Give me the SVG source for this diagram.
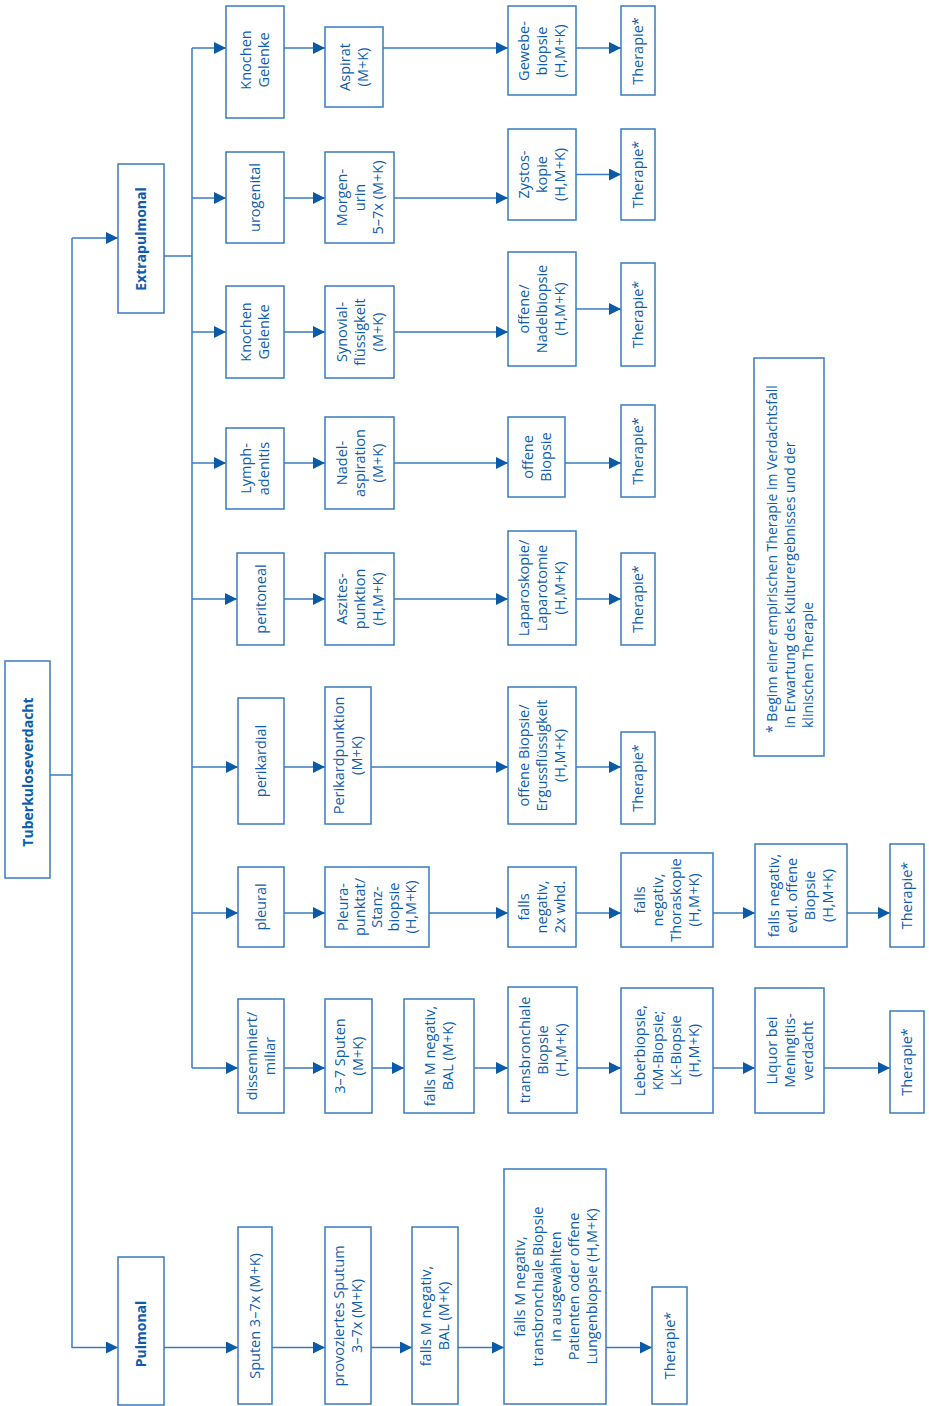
<svg xmlns="http://www.w3.org/2000/svg" width="929" height="1406" viewBox="0 0 929 1406">
<defs>
<marker id="ah" viewBox="0 0 12 12" markerUnits="userSpaceOnUse" markerWidth="12" markerHeight="12" refX="12" refY="6" orient="auto">
<path d="M0,0 L12,6 L0,12 z" fill="#0b5aa8"/>
</marker>
<style>
.b{fill:#fff;stroke:#3a7bbf;stroke-width:1.5}
.t{font-family:"Open Sans","Noto Sans",sans-serif;font-size:14.5px;fill:#0e5dad;text-anchor:middle}
.bd{font-weight:bold;font-size:14px}
.f{font-family:"Open Sans","Noto Sans",sans-serif;font-size:14px;fill:#0e5dad;text-anchor:start}
.c line{stroke:#3a7bbf;stroke-width:1.5;fill:none}
.c .a{marker-end:url(#ah)}
</style>
</defs>
<rect width="929" height="1406" fill="#fff"/>
<g class="c" id="connectors">
<line x1="50" y1="775" x2="72" y2="775"/>
<line x1="72" y1="238" x2="72" y2="1348"/>
<line class="a" x1="72" y1="238" x2="118" y2="238"/>
<line class="a" x1="72" y1="1347.5" x2="118" y2="1347.5"/>
<line x1="164" y1="256" x2="192" y2="256"/>
<line x1="192" y1="48" x2="192" y2="1068"/>
<line class="a" x1="192" y1="48" x2="226" y2="48"/>
<line class="a" x1="284" y1="48" x2="325" y2="48"/>
<line class="a" x1="383" y1="48" x2="508" y2="48"/>
<line class="a" x1="576" y1="48" x2="621" y2="48"/>
<line class="a" x1="192" y1="198" x2="226" y2="198"/>
<line class="a" x1="284" y1="198" x2="325" y2="198"/>
<line class="a" x1="394" y1="198" x2="508" y2="198"/>
<line class="a" x1="576" y1="174.5" x2="621" y2="174.5"/>
<line class="a" x1="192" y1="332" x2="226" y2="332"/>
<line class="a" x1="284" y1="332" x2="325" y2="332"/>
<line class="a" x1="394" y1="332" x2="508" y2="332"/>
<line class="a" x1="576" y1="309" x2="621" y2="309"/>
<line class="a" x1="192" y1="463" x2="226" y2="463"/>
<line class="a" x1="284" y1="463" x2="325" y2="463"/>
<line class="a" x1="394" y1="463" x2="508" y2="463"/>
<line class="a" x1="565" y1="463" x2="621" y2="463"/>
<line class="a" x1="192" y1="599" x2="237" y2="599"/>
<line class="a" x1="284" y1="599" x2="325" y2="599"/>
<line class="a" x1="394" y1="599" x2="508" y2="599"/>
<line class="a" x1="576" y1="599" x2="621" y2="599"/>
<line class="a" x1="192" y1="767" x2="238" y2="767"/>
<line class="a" x1="284" y1="767" x2="325" y2="767"/>
<line class="a" x1="371" y1="767" x2="508" y2="767"/>
<line class="a" x1="576" y1="767" x2="621" y2="767"/>
<line class="a" x1="192" y1="913" x2="238" y2="913"/>
<line class="a" x1="284" y1="913" x2="325" y2="913"/>
<line class="a" x1="429" y1="913" x2="508" y2="913"/>
<line class="a" x1="576" y1="913" x2="621" y2="913"/>
<line class="a" x1="713" y1="913" x2="755" y2="913"/>
<line class="a" x1="847" y1="913" x2="890" y2="913"/>
<line class="a" x1="192" y1="1068" x2="238" y2="1068"/>
<line class="a" x1="284" y1="1068" x2="325" y2="1068"/>
<line class="a" x1="372" y1="1068" x2="404" y2="1068"/>
<line class="a" x1="474" y1="1068" x2="508" y2="1068"/>
<line class="a" x1="577" y1="1068" x2="621" y2="1068"/>
<line class="a" x1="713" y1="1068" x2="755" y2="1068"/>
<line class="a" x1="824" y1="1068" x2="890" y2="1068"/>
<line class="a" x1="164" y1="1347.5" x2="238" y2="1347.5"/>
<line class="a" x1="272" y1="1347.5" x2="325" y2="1347.5"/>
<line class="a" x1="371" y1="1347.5" x2="412" y2="1347.5"/>
<line class="a" x1="458" y1="1347.5" x2="504" y2="1347.5"/>
<line class="a" x1="606" y1="1347.5" x2="652" y2="1347.5"/>
</g>

<g id="n_tb"><rect class="b" x="5" y="661" width="45" height="217"/><text class="t bd" transform="translate(27.5,772) rotate(-90)"><tspan x="0" y="5">Tuberkuloseverdacht</tspan></text></g>
<g id="n_extra"><rect class="b" x="118" y="164" width="46" height="149"/><text class="t bd" transform="translate(141,239) rotate(-90)"><tspan x="0" y="5">Extrapulmonal</tspan></text></g>
<g id="n_pulm"><rect class="b" x="118" y="1257" width="46" height="148"/><text class="t bd" transform="translate(141,1334) rotate(-90)"><tspan x="0" y="5">Pulmonal</tspan></text></g>

<g id="a1"><rect class="b" x="226" y="6" width="58" height="112"/><text class="t" transform="translate(255,60) rotate(-90)"><tspan x="0" y="-4">Knochen</tspan><tspan x="0" y="14">Gelenke</tspan></text></g>
<g id="b1"><rect class="b" x="325" y="27" width="58" height="80"/><text class="t" transform="translate(354,67) rotate(-90)"><tspan x="0" y="-4">Aspirat</tspan><tspan x="0" y="14">(M+K)</tspan></text></g>
<g id="c1"><rect class="b" x="508" y="6" width="68" height="89"/><text class="t" transform="translate(542,51) rotate(-90)"><tspan x="0" y="-13">Gewebe-</tspan><tspan x="0" y="5">biopsie</tspan><tspan x="0" y="23">(H,M+K)</tspan></text></g>
<g id="d1"><rect class="b" x="621" y="6" width="34" height="89"/><text class="t" transform="translate(638,51) rotate(-90)"><tspan x="0" y="5">Therapie*</tspan></text></g>

<g id="a2"><rect class="b" x="226" y="152" width="58" height="91"/><text class="t" transform="translate(255,197.5) rotate(-90)"><tspan x="0" y="5">urogenital</tspan></text></g>
<g id="b2"><rect class="b" x="325" y="152" width="69" height="91"/><text class="t" transform="translate(359.5,197.5) rotate(-90)"><tspan x="0" y="-13">Morgen-</tspan><tspan x="0" y="5">urin</tspan><tspan x="0" y="23">5–7x (M+K)</tspan></text></g>
<g id="c2"><rect class="b" x="508" y="129" width="68" height="91"/><text class="t" transform="translate(542,174.5) rotate(-90)"><tspan x="0" y="-13">Zystos-</tspan><tspan x="0" y="5">kopie</tspan><tspan x="0" y="23">(H,M+K)</tspan></text></g>
<g id="d2"><rect class="b" x="621" y="129" width="34" height="91"/><text class="t" transform="translate(638,174.5) rotate(-90)"><tspan x="0" y="5">Therapie*</tspan></text></g>

<g id="a3"><rect class="b" x="226" y="286" width="58" height="92"/><text class="t" transform="translate(255,332) rotate(-90)"><tspan x="0" y="-4">Knochen</tspan><tspan x="0" y="14">Gelenke</tspan></text></g>
<g id="b3"><rect class="b" x="325" y="286" width="69" height="92"/><text class="t" transform="translate(359.5,332) rotate(-90)"><tspan x="0" y="-13">Synovial-</tspan><tspan x="0" y="5">flüssigkeit</tspan><tspan x="0" y="23">(M+K)</tspan></text></g>
<g id="c3"><rect class="b" x="508" y="252" width="68" height="114"/><text class="t" transform="translate(542,309) rotate(-90)"><tspan x="0" y="-13">offene/</tspan><tspan x="0" y="5">Nadelbiopsie</tspan><tspan x="0" y="23">(H,M+K)</tspan></text></g>
<g id="d3"><rect class="b" x="621" y="263" width="34" height="103"/><text class="t" transform="translate(638,314.5) rotate(-90)"><tspan x="0" y="5">Therapie*</tspan></text></g>

<g id="a4"><rect class="b" x="226" y="428" width="58" height="81"/><text class="t" transform="translate(255,468.5) rotate(-90)"><tspan x="0" y="-4">Lymph-</tspan><tspan x="0" y="14">adenitis</tspan></text></g>
<g id="b4"><rect class="b" x="325" y="417" width="69" height="92"/><text class="t" transform="translate(359.5,463) rotate(-90)"><tspan x="0" y="-13">Nadel-</tspan><tspan x="0" y="5">aspiration</tspan><tspan x="0" y="23">(M+K)</tspan></text></g>
<g id="c4"><rect class="b" x="508" y="417" width="57" height="80"/><text class="t" transform="translate(536.5,457) rotate(-90)"><tspan x="0" y="-4">offene</tspan><tspan x="0" y="14">Biopsie</tspan></text></g>
<g id="d4"><rect class="b" x="621" y="405" width="34" height="92"/><text class="t" transform="translate(638,451) rotate(-90)"><tspan x="0" y="5">Therapie*</tspan></text></g>

<g id="a5"><rect class="b" x="237" y="553" width="47" height="92"/><text class="t" transform="translate(260.5,599) rotate(-90)"><tspan x="0" y="5">peritoneal</tspan></text></g>
<g id="b5"><rect class="b" x="325" y="553" width="69" height="92"/><text class="t" transform="translate(359.5,599) rotate(-90)"><tspan x="0" y="-13">Aszites-</tspan><tspan x="0" y="5">punktion</tspan><tspan x="0" y="23">(H,M+K)</tspan></text></g>
<g id="c5"><rect class="b" x="508" y="531" width="68" height="114"/><text class="t" transform="translate(542,588) rotate(-90)"><tspan x="0" y="-13">Laparoskopie/</tspan><tspan x="0" y="5">Laparotomie</tspan><tspan x="0" y="23">(H,M+K)</tspan></text></g>
<g id="d5"><rect class="b" x="621" y="553" width="34" height="92"/><text class="t" transform="translate(638,599) rotate(-90)"><tspan x="0" y="5">Therapie*</tspan></text></g>

<g id="a6"><rect class="b" x="238" y="698" width="46" height="126"/><text class="t" transform="translate(261,761) rotate(-90)"><tspan x="0" y="5">perikardial</tspan></text></g>
<g id="b6"><rect class="b" x="325" y="687" width="46" height="137"/><text class="t" transform="translate(348,755.5) rotate(-90)"><tspan x="0" y="-4">Perikardpunktion</tspan><tspan x="0" y="14">(M+K)</tspan></text></g>
<g id="c6"><rect class="b" x="508" y="687" width="68" height="137"/><text class="t" transform="translate(542,755.5) rotate(-90)"><tspan x="0" y="-13">offene Biopsie/</tspan><tspan x="0" y="5">Ergussflüssigkeit</tspan><tspan x="0" y="23">(H,M+K)</tspan></text></g>
<g id="d6"><rect class="b" x="621" y="732" width="34" height="92"/><text class="t" transform="translate(638,778) rotate(-90)"><tspan x="0" y="5">Therapie*</tspan></text></g>

<g id="a7"><rect class="b" x="238" y="867" width="46" height="80"/><text class="t" transform="translate(261,907) rotate(-90)"><tspan x="0" y="5">pleural</tspan></text></g>
<g id="b7"><rect class="b" x="325" y="867" width="104" height="80"/><text class="t" transform="translate(377,907) rotate(-90)"><tspan x="0" y="-29">Pleura-</tspan><tspan x="0" y="-12">punktat/</tspan><tspan x="0" y="5">Stanz-</tspan><tspan x="0" y="22">biopsie</tspan><tspan x="0" y="39">(H,M+K)</tspan></text></g>
<g id="c7"><rect class="b" x="508" y="867" width="68" height="80"/><text class="t" transform="translate(542,907) rotate(-90)"><tspan x="0" y="-13">falls</tspan><tspan x="0" y="5">negativ,</tspan><tspan x="0" y="23">2x whd.</tspan></text></g>
<g id="d7"><rect class="b" x="621" y="853" width="92" height="94"/><text class="t" transform="translate(667,900) rotate(-90)"><tspan x="0" y="-22">falls</tspan><tspan x="0" y="-4">negativ,</tspan><tspan x="0" y="14">Thoraskopie</tspan><tspan x="0" y="32">(H,M+K)</tspan></text></g>
<g id="e7"><rect class="b" x="755" y="844" width="92" height="103"/><text class="t" transform="translate(801,895.5) rotate(-90)"><tspan x="0" y="-22">falls negativ,</tspan><tspan x="0" y="-4">evtl. offene</tspan><tspan x="0" y="14">Biopsie</tspan><tspan x="0" y="32">(H,M+K)</tspan></text></g>
<g id="f7"><rect class="b" x="890" y="844" width="34" height="103"/><text class="t" transform="translate(907,895.5) rotate(-90)"><tspan x="0" y="5">Therapie*</tspan></text></g>

<g id="a8"><rect class="b" x="238" y="999" width="46" height="114"/><text class="t" transform="translate(261,1056) rotate(-90)"><tspan x="0" y="-4">disseminiert/</tspan><tspan x="0" y="14">miliar</tspan></text></g>
<g id="b8"><rect class="b" x="325" y="999" width="47" height="114"/><text class="t" transform="translate(348.5,1056) rotate(-90)"><tspan x="0" y="-4">3–7 Sputen</tspan><tspan x="0" y="14">(M+K)</tspan></text></g>
<g id="c8"><rect class="b" x="404" y="999" width="70" height="114"/><text class="t" transform="translate(439,1056) rotate(-90)"><tspan x="0" y="-4">falls M negativ,</tspan><tspan x="0" y="14">BAL (M+K)</tspan></text></g>
<g id="d8"><rect class="b" x="508" y="987" width="69" height="126"/><text class="t" transform="translate(542.5,1050) rotate(-90)"><tspan x="0" y="-13">transbronchiale</tspan><tspan x="0" y="5">Biopsie</tspan><tspan x="0" y="23">(H,M+K)</tspan></text></g>
<g id="e8"><rect class="b" x="621" y="988" width="92" height="125"/><text class="t" transform="translate(667,1050.5) rotate(-90)"><tspan x="0" y="-22">Leberbiopsie,</tspan><tspan x="0" y="-4">KM-Biopsie;</tspan><tspan x="0" y="14">LK-Biopsie</tspan><tspan x="0" y="32">(H,M+K)</tspan></text></g>
<g id="f8"><rect class="b" x="755" y="988" width="69" height="125"/><text class="t" transform="translate(789.5,1050.5) rotate(-90)"><tspan x="0" y="-13">Liquor bei</tspan><tspan x="0" y="5">Meningitis-</tspan><tspan x="0" y="23">verdacht</tspan></text></g>
<g id="g8"><rect class="b" x="890" y="1011" width="34" height="102"/><text class="t" transform="translate(907,1062) rotate(-90)"><tspan x="0" y="5">Therapie*</tspan></text></g>

<g id="p1"><rect class="b" x="238" y="1227" width="34" height="177"/><text class="t" transform="translate(255,1316) rotate(-90)"><tspan x="0" y="5">Sputen 3–7x (M+K)</tspan></text></g>
<g id="p2"><rect class="b" x="325" y="1227" width="46" height="177"/><text class="t" transform="translate(348,1316) rotate(-90)"><tspan x="0" y="-4">provoziertes Sputum</tspan><tspan x="0" y="14">3–7x (M+K)</tspan></text></g>
<g id="p3"><rect class="b" x="412" y="1227" width="46" height="177"/><text class="t" transform="translate(435,1316) rotate(-90)"><tspan x="0" y="-4">falls M negativ,</tspan><tspan x="0" y="14">BAL (M+K)</tspan></text></g>
<g id="p4"><rect class="b" x="504" y="1169" width="102" height="235"/><text class="t" transform="translate(555.5,1286.5) rotate(-90)"><tspan x="0" y="-31">falls M negativ,</tspan><tspan x="0" y="-13">transbronchiale Biopsie</tspan><tspan x="0" y="5">in ausgewählten</tspan><tspan x="0" y="23">Patienten oder offene</tspan><tspan x="0" y="41">Lungenbiopsie (H,M+K)</tspan></text></g>
<g id="p5"><rect class="b" x="652" y="1287" width="35" height="117"/><text class="t" transform="translate(669.5,1345.5) rotate(-90)"><tspan x="0" y="5">Therapie*</tspan></text></g>

<g id="footnote"><rect class="b" x="754" y="358" width="70" height="398"/><text class="f" transform="translate(772,733) rotate(-90)"><tspan x="0" y="5">* Beginn einer empirischen Therapie im Verdachtsfall</tspan><tspan x="5" y="23">in Erwartung des Kulturergebnisses und der</tspan><tspan x="5" y="41">klinischen Therapie</tspan></text></g>
</svg>
